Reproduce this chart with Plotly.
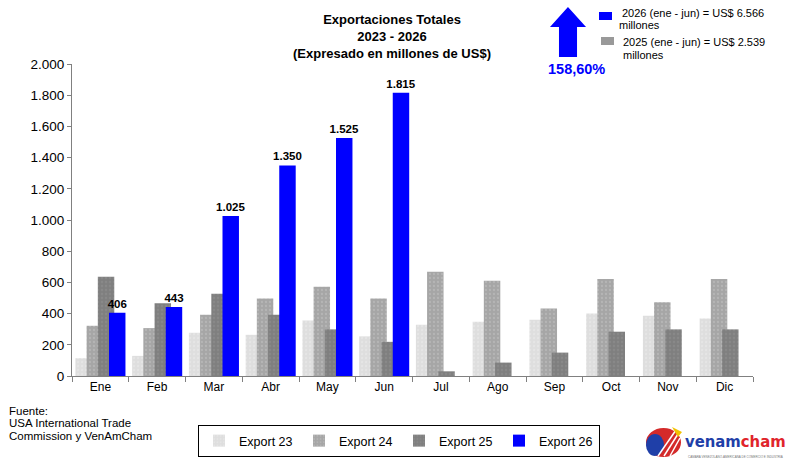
import plotly.graph_objects as go

meses = ["Ene", "Feb", "Mar", "Abr", "May", "Jun", "Jul", "Ago", "Sep", "Oct", "Nov", "Dic"]
export_23 = [114, 129, 277, 264, 355, 254, 329, 348, 361, 400, 387, 368]
export_24 = [322, 307, 393, 497, 572, 497, 669, 611, 432, 621, 473, 621]
export_25 = [636, 466, 527, 393, 299, 219, 30, 86, 150, 284, 299, 299]
export_26 = [406, 443, 1025, 1350, 1525, 1815, None, None, None, None, None, None]

nombres = ["Export 23", "Export 24", "Export 25", "Export 26"]
colores = ["#dedede", "#a6a6a6", "#7f7f7f", "#0000ff"]
puntos = ["#ececec", "#c4c4c4", "#949494", "#0000ff"]
desplaz = [-0.44, -0.243, -0.045, 0.152]

FONT = "Liberation Sans, Arial, sans-serif"

# pixel -> paper helpers (plot area 72..753 x 64..376)
def px(x):
    return (x - 72) / 681

def py(y):
    return (376 - y) / 312

fig = go.Figure()
for i, serie in enumerate([export_23, export_24, export_25, export_26]):
    marker = dict(color=colores[i], line=dict(width=0))
    if i < 3:
        marker["pattern"] = dict(shape=".", fgcolor=puntos[i], size=4, solidity=0.25)
    fig.add_trace(go.Bar(
        x=meses, y=serie, name=nombres[i],
        width=0.29, offset=desplaz[i],
        marker=marker,
        texttemplate="<b>%{y:,.0f}</b>" if i == 3 else None,
        textposition="outside" if i == 3 else "none",
        constraintext="none",
        textfont=dict(size=11.5, color="black", family=FONT),
        cliponaxis=False,
    ))

fig.update_layout(
    width=800, height=475,
    margin=dict(l=72, r=47, t=64, b=99, autoexpand=False),
    barmode="overlay",
    separators=",.",
    paper_bgcolor="white", plot_bgcolor="white",
    font=dict(family=FONT, size=12, color="black"),
    title=dict(
        text="<b>Exportaciones Totales<br>2023 - 2026<br>(Expresado en millones de US$)</b>",
        x=392 / 800, xanchor="center", y=1 - 24 / 475, yanchor="top",
        font=dict(size=13, family=FONT, color="black"),
    ),
    legend=dict(
        orientation="h", x=px(399), xanchor="center", y=py(425), yanchor="top",
        bordercolor="black", borderwidth=1, bgcolor="white",
        font=dict(size=12.5, family=FONT), itemwidth=30,
        entrywidth=55, entrywidthmode="pixels",
        traceorder="normal", tracegroupgap=0,
    ),
    showlegend=True,
)

fig.update_xaxes(
    showline=True, linecolor="#808080", linewidth=1,
    ticks="outside", tickson="boundaries", ticklen=5, tickcolor="#808080",
    tickfont=dict(size=12), showgrid=False,
)
fig.update_yaxes(
    range=[0, 2000], dtick=200, tickformat=",.0f",
    showline=True, linecolor="#808080", linewidth=1,
    ticks="outside", ticklen=4, tickcolor="#808080",
    tickfont=dict(size=13.5), showgrid=False, zeroline=False,
)

shapes = []
# up arrow
pts = [(568, 7), (586, 27), (577, 27), (577, 57), (559, 57), (559, 27), (550, 27)]
path = "M " + " L ".join(f"{px(a):.4f},{py(b):.4f}" for a, b in pts) + " Z"
shapes.append(dict(type="path", xref="paper", yref="paper", path=path,
                   fillcolor="#0000ff", line=dict(width=0)))
# mini legend squares
shapes.append(dict(type="rect", xref="paper", yref="paper", x0=px(599), x1=px(612), y0=py(12), y1=py(20),
                   fillcolor="#0000ff", line=dict(width=0)))
shapes.append(dict(type="rect", xref="paper", yref="paper", x0=px(601), x1=px(614), y0=py(37), y1=py(45),
                   fillcolor="#999999", line=dict(width=0)))
# logo emblem
shapes.append(dict(type="circle", xref="paper", yref="paper", x0=px(646), x1=px(681), y0=py(428), y1=py(457),
                   fillcolor="#d42a2a", line=dict(width=0)))
shapes.append(dict(type="circle", xref="paper", yref="paper", x0=px(646), x1=px(664), y0=py(434), y1=py(456),
                   fillcolor="#1f3fa8", line=dict(width=0)))
for k in range(3):
    shapes.append(dict(type="line", xref="paper", yref="paper",
                       x0=px(658 + k * 6), y0=py(456), x1=px(676 + k * 2), y1=py(430 + k * 4),
                       line=dict(color="white", width=1.5)))
shapes.append(dict(type="path", xref="paper", yref="paper",
                   path=f"M {px(672):.4f},{py(427):.4f} L {px(682):.4f},{py(432):.4f} L {px(678):.4f},{py(437):.4f} Z",
                   fillcolor="#f2c200", line=dict(width=0)))
fig.update_layout(shapes=shapes)

notas = [
    ("<b>158,60%</b>", 576, 69, "center", 14.5, "#0000ff"),
    ("2026 (ene - jun) = US$ 6.566", 620, 13, "left", 11, "black"),
    ("millones", 617, 25, "left", 11, "black"),
    ("2025 (ene - jun) = US$ 2.539", 621, 42, "left", 11, "black"),
    ("millones", 621, 55, "left", 11, "black"),
    ("Fuente:", 7, 411, "left", 11.5, "black"),
    ("USA International Trade", 7, 423, "left", 11.5, "black"),
    ("Commission y VenAmCham", 7, 436, "left", 11.5, "black"),
]
for txt, xx, yy, anc, sz, col in notas:
    fig.add_annotation(text=txt, xref="paper", yref="paper", x=px(xx), y=py(yy),
                       xanchor=anc, yanchor="middle", showarrow=False,
                       font=dict(size=sz, color=col, family=FONT))

fig.add_annotation(
    text="<b><span style='color:#1f3fa8'>venam</span><span style='color:#e0242b'>cham</span></b>",
    xref="paper", yref="paper", x=px(683), y=py(441), xanchor="left", yanchor="middle",
    showarrow=False, font=dict(size=16.5, family="DejaVu Sans Condensed, Liberation Sans Narrow, " + FONT),
)
fig.add_annotation(
    text="CAMARA VENEZOLANO-AMERICANA DE COMERCIO E INDUSTRIA",
    xref="paper", yref="paper", x=px(735), y=py(457), xanchor="center", yanchor="middle",
    showarrow=False, font=dict(size=3, color="#777777", family=FONT),
)

# page body has a default 8px margin; drop it so the figure fills the window
fig.write_html("out.html", config={"displayModeBar": False},
               post_script="document.body.style.margin='0';")
